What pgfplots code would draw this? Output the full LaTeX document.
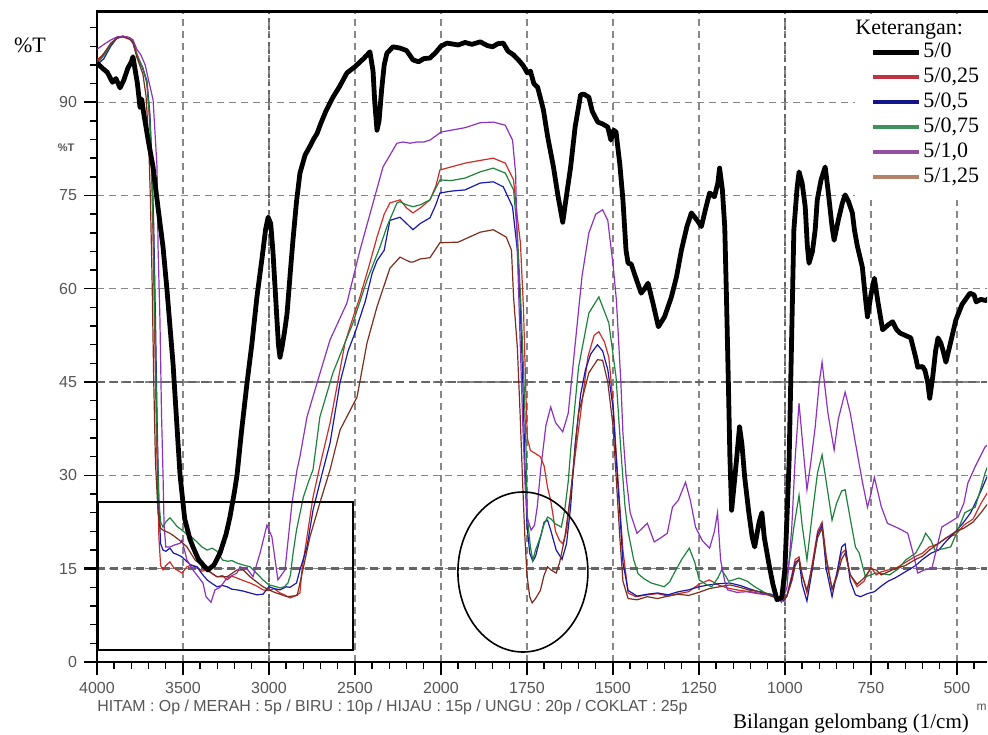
\documentclass[border=0pt]{standalone}
\usepackage{pgfplots}
\pgfplotsset{compat=1.18}
\usepackage{fontspec}
\setmainfont{Liberation Serif}
\setsansfont{Liberation Sans}
\definecolor{cred}{RGB}{205,45,40}
\definecolor{cblue}{RGB}{25,25,170}
\definecolor{cgreen}{RGB}{30,130,60}
\definecolor{cpurple}{RGB}{140,50,190}
\definecolor{cbrown}{RGB}{125,45,30}
\definecolor{lred}{RGB}{195,50,65}
\definecolor{lblue}{RGB}{20,20,140}
\definecolor{lgreen}{RGB}{65,145,95}
\definecolor{lpurple}{RGB}{145,80,160}
\definecolor{lbrown}{RGB}{180,130,105}
\definecolor{gridc}{RGB}{135,135,135}
\definecolor{labc}{RGB}{85,85,85}
\pgfplotsset{table/wn/.style={x expr={\thisrow{w}>2000 ? (4000-\thisrow{w})/500 : 4+(2000-\thisrow{w})/250}, y=t}}
\begin{document}
\begin{tikzpicture}
\useasboundingbox (-48.5pt,-36pt) rectangle (445.5pt,331pt);
\begin{axis}[
  at={(0,0)}, anchor=south west, scale only axis,
  width=445pt, height=325pt,
  xmin=0, xmax=10.35, ymin=0, ymax=104.5,
  axis x line*=bottom, axis y line*=left,
  axis line style={line width=0.8pt},
  tick align=outside,
  major tick length=6.5pt, minor tick length=3.5pt,
  tick style={black, line width=0.7pt},
  xtick={0,1,2,3,4,5,6,7,8,9,10},
  xticklabels={4000,3500,3000,2500,2000,1750,1500,1250,1000,750,500},
  minor xtick={0.2,0.4,0.6,0.8,1.2,1.4,1.6,1.8,2.2,2.4,2.6,2.8,3.2,3.4,3.6,3.8,4.2,4.4,4.6,4.8,5.2,5.4,5.6,5.8,6.2,6.4,6.6,6.8,7.2,7.4,7.6,7.8,8.2,8.4,8.6,8.8,9.2,9.4,9.6,9.8,10.2},
  ytick={0,15,30,45,60,75,90},
  yticklabels={0,15,30,45,60,75,90},
  minor ytick={3,6,9,12,18,21,24,27,33,36,39,42,48,51,54,57,63,66,69,72,78,81,84,87,93,96,99,102},
  /pgf/number format/assume math mode=true,
  tick label style={font=\sffamily\fontsize{8}{9}\selectfont, text=labc},
  grid=major,
  major grid style={gridc, line width=0.6pt, dash pattern=on 3.5pt off 2.5pt},
  extra y ticks={15,45}, extra y tick labels={},
  extra y tick style={grid=major, major grid style={gridc!75!black, line width=1.3pt, dash pattern=on 4pt off 2.5pt}, tick style={line width=1.3pt}},
  extra x ticks={2,8}, extra x tick labels={},
  extra x tick style={grid=major, major grid style={gridc!75!black, line width=1.3pt, dash pattern=on 2pt off 2pt}, tick style={line width=1.3pt}},
  legend cell align=left,
  legend image code/.code={\draw[#1] (0pt,0pt) -- (23pt,0pt);},
  legend style={at={(0.8685,0.9577)}, anchor=north west, draw=none, fill=none,
    font=\fontsize{11}{12}\selectfont, inner sep=0pt, row sep=0pt,
    nodes={inner sep=1pt, text height=8pt, text depth=2.5pt}},
]
% ---------- 5/0,25 (red)
\addplot[cred, line width=0.6pt, forget plot] table[wn] {
w t
4000 96.8
3970 97.5
3942 98.5
3910 99.5
3884 100.3
3850 100.6
3826 100.5
3791 100
3768 97.8
3750 96.5
3733 95.5
3710 93
3692 86
3680 76
3674 68
3663 50
3651 32
3640 20
3630 15.5
3616 14.8
3600 15.5
3576 16.1
3555 15.2
3535 14.8
3506 14.3
3477 15.3
3450 15.6
3419 15.3
3390 14.6
3360 14.8
3330 14.2
3302 13.7
3270 13.9
3244 13.2
3215 13.8
3186 13.5
3150 13.1
3110 12.7
3070 12.2
3035 11.6
3000 11.5
2970 11.8
2936 11.1
2910 10.8
2878 10.3
2850 10.6
2820 11.1
2808 14.8
2779 20.1
2744 26.5
2700 32
2645 38.4
2600 45
2558 51.3
2510 55.5
2471 58.7
2420 63.5
2372 68.3
2330 72
2297 73.8
2238 74.3
2200 73
2163 72.2
2120 73
2064 74.3
2030 76.5
2006 79.1
1970 79.6
1930 80.2
1890 80.6
1848 81
1813 80.2
1789 77.5
1778 71.5
1769 67.4
1760 56.6
1754 44.8
1749 36
1740 34
1725 33.5
1711 33
1700 31.5
1690 28
1681 26
1667 21
1655 19.5
1646 19
1635 21
1623 27.2
1608 34
1594 40
1573 49
1555 52.5
1541 53.1
1525 51.5
1512 49
1500 42
1491 34
1480 25
1471 18
1456 11.1
1433 10.5
1400 10.8
1370 11
1340 10.6
1310 11
1280 11.3
1250 12.5
1220 13.2
1190 12.3
1160 11.8
1130 11.5
1100 11.3
1070 11
1040 10.8
1020 10.3
1005 10
995 10.5
980 14
970 16.5
959 16.9
950 14
936 11.1
920 16
905 21
892 22.5
880 17
863 11.6
850 14
835 17.5
825 18
810 14
790 12.1
770 13
750 15.3
735 14
720 14.5
700 14.8
680 15
650 16
620 17
600 17.5
580 18.5
555 19
530 20
503 20.5
480 22
453 23
430 25.5
403 28
};
% ---------- 5/0,5 (blue)
\addplot[cblue, line width=0.6pt, forget plot] table[wn] {
w t
4000 96
3960 97
3920 99
3884 100.3
3850 100.6
3810 100.2
3791 99.5
3768 97.5
3733 95.3
3710 93.5
3692 88
3680 80
3670 70
3660 55
3650 38
3640 25
3630 19
3616 18
3600 17.8
3576 18.3
3555 17.5
3535 17.3
3506 16.9
3480 16.2
3450 15.5
3419 15.3
3390 14.2
3360 13.2
3330 12.6
3302 12.1
3270 12.3
3244 12.1
3215 11.7
3186 11.6
3150 11.4
3110 11.1
3070 10.8
3035 10.9
3000 12.1
2970 11.8
2936 11.6
2900 12.1
2878 12
2840 12.7
2820 14.8
2779 18.5
2744 24.4
2700 29.3
2645 35.2
2587 44.9
2540 50
2500 52.9
2440 58
2400 62.5
2372 64.5
2330 66.2
2297 71
2238 71.5
2200 70.5
2163 69.5
2120 70.5
2064 71.4
2030 73.5
2006 75.4
1970 75.7
1930 75.9
1886 77
1848 77.2
1819 76.4
1792 73.2
1778 66.2
1770 58
1762 45
1756 32
1750 22
1742 17.5
1733 16.2
1725 17
1711 20
1700 22.5
1690 22.8
1680 21
1665 18
1648 16.5
1635 19
1623 25
1610 35
1594 43
1580 47
1565 49.5
1545 51
1530 50
1515 47
1500 41
1491 33
1480 24
1471 16
1456 11.5
1430 10.6
1400 10.9
1370 11.1
1340 10.8
1310 11.3
1280 11.6
1250 12.1
1220 12.4
1190 12.6
1160 12.7
1130 12.3
1100 11.7
1070 11.2
1040 10.9
1020 10.2
1005 9.8
995 10.5
980 13.5
970 16
959 16.5
950 12.5
936 9.8
920 15
905 20.5
892 22
880 15
863 10.5
850 14
835 18.5
825 19
810 13
795 10.8
780 10.5
760 11
740 11.3
720 12.2
700 13
680 13.5
650 14.5
620 15.5
600 16.5
575 17.5
553 18
530 19.5
503 21
480 22.5
460 24
430 27.5
403 31
};
% ---------- 5/0,75 (green)
\addplot[cgreen, line width=0.6pt, forget plot] table[wn] {
w t
4000 96.2
3960 97.5
3920 99.3
3884 100.3
3850 100.6
3810 100.2
3791 99.8
3768 97.6
3733 95.5
3710 93.2
3692 87
3680 78
3670 66
3660 50
3650 35
3640 26
3630 22.5
3616 21.7
3600 22.5
3576 23.2
3555 22.5
3535 21.8
3506 21.2
3480 20.6
3450 20.1
3419 19.3
3390 18.5
3360 18
3330 18.3
3302 17.8
3270 16.4
3240 16.2
3215 16.3
3186 15.9
3150 15.6
3110 15.3
3070 14.2
3035 13.2
3000 12.4
2970 12.2
2936 11.9
2910 12.1
2890 12.7
2875 14
2860 17.5
2840 21.2
2800 26.5
2770 29
2744 30.9
2704 39.4
2628 46.5
2512 54.5
2430 61.4
2355 66.7
2314 70
2256 73.8
2238 74
2200 73.5
2163 73.2
2120 73.5
2064 74.3
2030 76.2
2006 77.5
1970 77.4
1930 77.8
1886 78.8
1848 79.4
1813 78.6
1789 75.9
1778 69
1768 58
1758 44
1752 33
1749 23.3
1740 18.5
1733 16.4
1725 18
1711 20.1
1700 22.2
1690 23.3
1680 23
1667 22.2
1650 21.7
1640 24.5
1630 29
1623 34
1600 47.4
1570 56.1
1541 58.7
1512 54.5
1491 45.8
1477 34
1465 25
1456 21
1440 16.5
1427 14.2
1410 13.4
1389 12.7
1370 12.4
1351 12.1
1335 12.9
1322 14.3
1300 16.5
1278 18.3
1262 16
1249 13.2
1230 12.5
1213 12.1
1195 13.5
1184 14.8
1172 13.8
1164 13
1150 13.2
1134 13.5
1110 13
1088 12.1
1060 11.2
1040 10.7
1029 10.5
1015 10.2
1000 12.1
985 17
974 21.7
959 26.8
950 22
936 16.4
920 24
905 30.5
892 33.3
880 29
863 22.8
850 25.5
835 27.5
825 27.7
810 23
795 18.5
784 17.5
766 13.7
750 14
737 14.3
715 14.2
696 14
670 15
649 16.4
620 17.5
600 19.5
591 20.7
575 19.5
564 18
540 18.2
518 18.5
495 21.5
477 24
460 24.5
447 24.9
430 28
418 30.4
403 32.5
};
% ---------- 5/1,0 (purple)
\addplot[cpurple, line width=0.6pt, forget plot] table[wn] {
w t
4000 98.5
3960 99.3
3920 100
3884 100.5
3850 100.6
3810 100.4
3791 100
3768 98.5
3745 97.6
3720 96
3700 93.5
3674 90.4
3651 79.6
3645 66.7
3634 55
3625 40
3616 30
3610 22
3600 18.5
3576 18.5
3550 18.8
3517 19.1
3506 19.6
3477 16.4
3442 14.8
3384 12.7
3366 10.5
3337 9.6
3314 11.6
3285 12
3244 13.5
3186 14.3
3169 15.3
3128 15
3093 13.7
3052 17.5
3012 22
2983 20.1
2948 13.2
2907 14.8
2866 25.6
2837 30.9
2820 33
2779 39.4
2733 43.7
2645 51.8
2547 57.7
2471 66.2
2413 72
2337 79.6
2256 83.4
2220 83.6
2180 83.4
2140 83.6
2100 83.6
2064 83.9
2000 85.2
1930 85.9
1886 86.7
1848 86.8
1813 86.3
1792 83.9
1783 78.6
1778 66.2
1770 52
1762 38
1755 28
1748 23
1738 21.2
1728 22
1720 25
1710 31
1695 38
1681 41
1667 38.5
1646 37
1630 40
1610 51
1590 62
1570 69
1550 72
1530 72.7
1515 71
1500 64
1490 58.2
1477 45
1471 36.8
1462 30
1450 24
1430 20.7
1400 22.3
1380 19.3
1360 20
1342 20.7
1327 24.9
1310 26
1289 28.9
1275 26
1260 21.7
1240 19.5
1219 18.3
1205 21
1196 24
1187 16.4
1175 13
1167 11.6
1140 11.2
1110 11.3
1080 11
1050 10.8
1023 10.3
1010 9.6
994 12
980 21.7
970 33
959 41.6
950 36
936 27.7
925 32
912 37.8
900 45
892 48.2
875 40
857 34.1
845 39
825 43.4
810 40
795 35.2
775 29
760 24.9
750 27
740 29.7
720 25
702 22.3
670 21.5
643 20.7
625 17
614 14.3
595 14.8
573 15
560 18
544 21.7
520 22.5
497 23.3
480 25.5
468 28.8
447 31.4
418 34.6
403 35.2
};
% ---------- 5/1,25 (brown)
\addplot[cbrown, line width=0.6pt, forget plot] table[wn] {
w t
4000 96.5
3960 97.8
3920 99.5
3884 100.3
3850 100.5
3810 100.1
3791 99.6
3768 97.2
3733 94.5
3715 91
3700 84
3690 75
3680 62
3670 45
3660 32
3645 24
3630 21.5
3616 21.2
3600 21
3576 20.7
3550 20.2
3517 19.5
3477 18.5
3430 16.4
3360 14.8
3302 13.7
3244 13.7
3186 14.8
3150 14.8
3110 13.7
3035 12.1
2977 11.3
2895 10.5
2836 10.7
2803 14.8
2762 20.1
2704 25.6
2645 30.9
2587 37.3
2488 42.6
2430 51.3
2372 57.1
2297 63.3
2238 65.1
2180 64.3
2163 64.3
2120 64.8
2064 65
2006 67.4
1950 67.5
1886 69.1
1848 69.5
1810 68.3
1795 66.2
1789 58.7
1778 50.6
1770 40
1762 28
1756 20
1750 14
1742 10.5
1735 9.5
1725 10.2
1711 11.5
1700 14
1690 15.3
1680 14.8
1665 14.3
1655 16
1640 20
1623 27
1600 40
1570 46.5
1545 48.6
1530 48.5
1515 45
1500 38
1491 30
1480 20
1471 13
1456 10.2
1430 10
1400 10.5
1370 10.2
1340 10.6
1310 10.9
1280 10.7
1250 11.2
1220 11.8
1190 12.1
1160 12.4
1130 12
1100 11.5
1070 11.3
1040 10.6
1020 10.2
1005 10
995 10.5
980 13
970 15.5
959 16.5
950 14
936 11.5
920 15.5
905 20
892 21.5
880 16.5
863 11.8
850 13.5
835 16.5
825 17.5
810 14
790 12.5
770 13.5
750 15
735 14.8
720 14
700 14.5
680 15
650 15.5
620 16.5
600 17
580 18
555 19
530 20
503 21
480 21.5
453 22.5
430 24
403 26
};
% ---------- 5/0 (black)
\addplot[black, line width=2.4pt, line join=round, forget plot] table[wn] {
w t
4000 96.3
3970 95.5
3940 94.8
3910 93.2
3890 93.8
3866 92.3
3845 93.5
3820 95.5
3800 96.5
3791 97.3
3780 95.5
3765 93
3750 89.2
3740 90.5
3730 88.5
3715 86
3700 83.5
3674 79.6
3645 73
3616 66.7
3593 59.8
3558 48
3517 30
3490 23
3460 19.8
3442 18.5
3410 16.5
3380 15.5
3355 14.8
3320 15.6
3285 17.5
3250 20.5
3227 23.3
3200 27.5
3186 30
3160 37
3128 44.8
3100 51
3070 58.7
3040 65
3020 69.5
3005 71.5
2990 70.5
2977 66
2960 58
2945 51
2936 49
2925 50.5
2910 53
2895 56
2875 63
2860 68
2840 74
2820 78.6
2790 81.5
2760 83
2744 83.9
2720 85
2700 86.5
2670 88.5
2628 90.8
2590 92.5
2547 94.7
2500 95.7
2450 97
2413 98.1
2395 95
2385 90
2372 85.5
2360 87
2345 92
2330 96
2314 97.9
2279 98.9
2238 98.7
2200 98.3
2180 97.5
2163 96.8
2130 96.5
2100 97
2064 97.1
2030 98
2000 99
1982 99.5
1950 99.2
1930 99.6
1910 99.3
1886 99.7
1865 99.1
1850 98.9
1835 99.4
1819 99.5
1805 98.2
1789 97.6
1770 96.5
1760 95.8
1749 94.7
1740 95
1730 93
1719 92.4
1710 90.5
1702 88.7
1690 84.5
1673 79.6
1660 75
1646 70.7
1635 75
1623 79.6
1610 86
1594 91.2
1585 91.3
1570 90.8
1560 88.5
1544 86.8
1530 86.5
1515 86
1506 83.9
1498 85.5
1491 85.2
1480 80
1471 74.3
1462 66.2
1456 64.1
1447 64
1435 62
1418 59.3
1408 60
1398 60.9
1385 58
1368 53.9
1350 55.5
1330 58.7
1315 62
1301 66.2
1285 70
1272 72.2
1255 71
1243 70
1230 73
1219 75.4
1205 74.8
1195 77
1190 79.4
1182 76
1175 70
1170 58.7
1164 43.7
1160 33
1155 24.4
1145 30
1132 37.8
1125 35
1117 29.7
1105 24
1095 20
1088 18.5
1075 22.5
1067 24
1060 20
1047 15.9
1035 12.5
1023 10
1009 10.4
1000 15
994 23.3
988 32
985 40
980 53.4
974 69.5
965 76
959 78.8
950 77
941 73.2
935 67
930 64.1
920 66
912 69.5
906 74.3
895 77.5
883 79.6
875 76
863 70
857 67.8
845 71
833 73.8
825 75.1
815 74
804 72.2
798 69.5
790 67
775 63.5
765 58
760 55.5
750 59
740 61.7
730 58
716 53.4
700 54.2
687 54.7
676 53.5
666 52.9
650 52.5
634 52.1
620 49
614 47.4
600 47.5
593 46.9
585 45
579 42.4
570 46
562 50
555 52.1
547 51.3
540 50
532 48.2
520 51
503 55
485 57.5
462 59.3
450 59
444 57.9
430 58.3
415 58.1
403 58.7
};
% annotations
\draw[black, line width=0.8pt] (axis cs:0.01,1.9) rectangle (axis cs:2.977,25.7);
\draw[black, line width=0.8pt] (axis cs:4.953,14.47) ellipse [x radius=32.5pt, y radius=40pt];
% legend background
\fill[white] (rel axis cs:0.852,0.711) rectangle (rel axis cs:1,0.991);
\addlegendimage{black, line width=2.5pt}
\addlegendentry{5/0}
\addlegendimage{lred, line width=2pt}
\addlegendentry{5/0,25}
\addlegendimage{lblue, line width=2pt}
\addlegendentry{5/0,5}
\addlegendimage{lgreen, line width=2pt}
\addlegendentry{5/0,75}
\addlegendimage{lpurple, line width=2pt}
\addlegendentry{5/1,0}
\addlegendimage{lbrown, line width=2pt}
\addlegendentry{5/1,25}
\end{axis}
\draw[line width=1.5pt] (-0.5pt,325pt) -- (445.5pt,325pt);
\node[anchor=west, inner sep=0pt, font=\fontsize{11}{12}\selectfont] at (379pt,316pt) {Keterangan:};
\node[inner sep=0pt, font=\fontsize{11}{12}\selectfont] at (-33.5pt,308.5pt) {\%T};
\node[inner sep=0pt, font=\sffamily\bfseries\fontsize{5.5}{6}\selectfont, text=labc] at (-15.5pt,257pt) {\%T};
\node[anchor=west, inner sep=0pt, text=labc] at (0pt,-22.5pt) {\resizebox{295pt}{!}{\sffamily HITAM : Op / MERAH : 5p / BIRU : 10p / HIJAU : 15p / UNGU : 20p / COKLAT : 25p}};
\node[inner sep=0pt, font=\fontsize{10.5}{12}\selectfont] at (377pt,-30.5pt) {Bilangan gelombang (1/cm)};
\node[anchor=east, inner sep=0pt, font=\sffamily\fontsize{6}{7}\selectfont, text=labc] at (445pt,-22.5pt) {m};
\end{tikzpicture}
\end{document}
